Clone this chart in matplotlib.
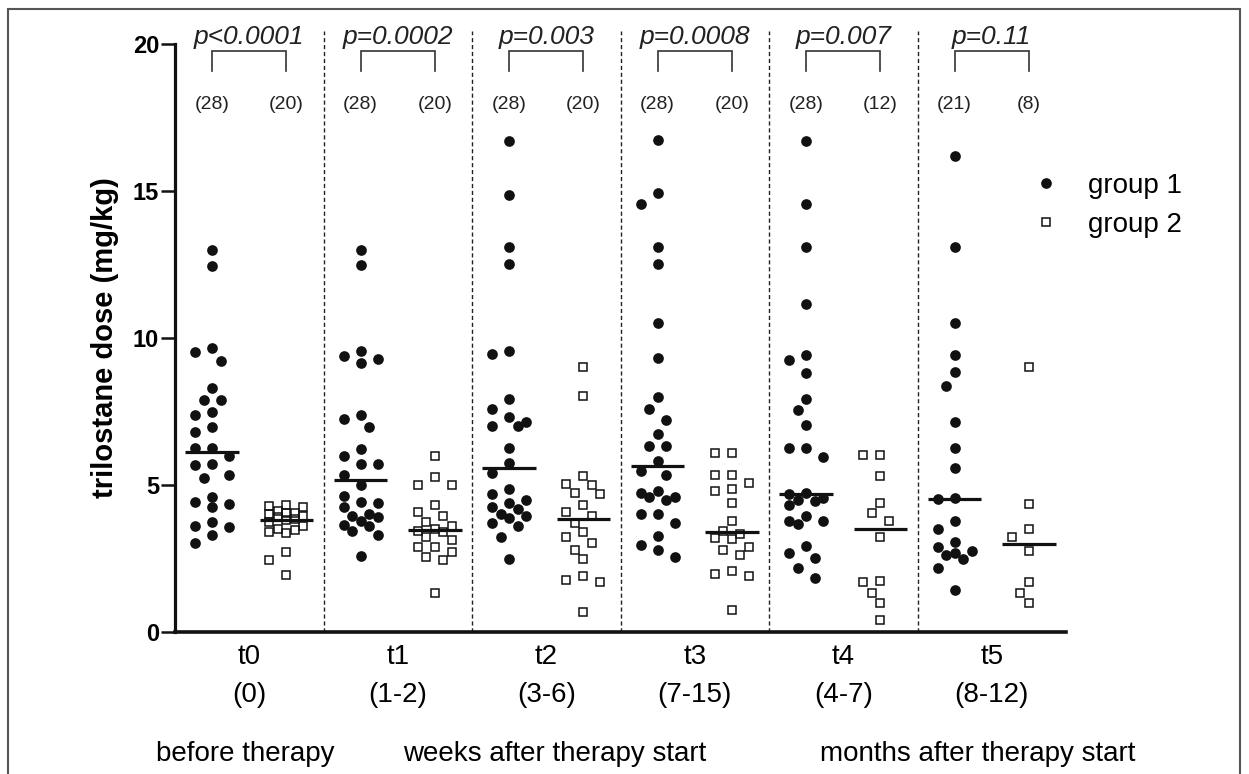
import numpy as np
import matplotlib
matplotlib.use("Agg")
import matplotlib.pyplot as plt
from matplotlib.lines import Line2D
from matplotlib.patches import Rectangle

plt.rcParams['font.family'] = ['Liberation Sans', 'DejaVu Sans']

# ---------------- data ----------------
timepoints = ["t0", "t1", "t2", "t3", "t4", "t5"]
ranges = ["(0)", "(1-2)", "(3-6)", "(7-15)", "(4-7)", "(8-12)"]
p_values = ["p<0.0001", "p=0.0002", "p=0.003", "p=0.0008", "p=0.007", "p=0.11"]
periods = ["before therapy", "weeks after therapy start", "months after therapy start"]
legend_labels = ["group 1", "group 2"]
y_label = "trilostane dose (mg/kg)"
y_ticks = [0, 5, 10, 15, 20]

group1_t0 = [13.0, 12.45, 9.67, 9.52, 9.21, 8.30, 7.90, 7.90, 7.49, 7.38, 6.96, 6.81, 6.25, 6.25,
             5.99, 5.70, 5.67, 5.33, 5.23, 4.59, 4.42, 4.37, 4.25, 3.73, 3.60, 3.58, 3.31, 3.03]
group2_t0 = [4.32, 4.30, 4.25, 4.10, 4.05, 4.04, 4.00, 3.95, 3.90, 3.85, 3.80, 3.75, 3.60, 3.50,
             3.47, 3.40, 3.36, 2.73, 2.45, 1.95]
group1_t1 = [13.0, 12.5, 9.55, 9.4, 9.3, 9.15, 7.38, 7.26, 6.96, 6.24, 5.99, 5.70, 5.70, 5.34,
             4.99, 4.62, 4.42, 4.39, 4.26, 4.0, 3.94, 3.90, 3.77, 3.65, 3.6, 3.43, 3.29, 2.57]
group2_t1 = [6.0, 5.28, 5.0, 5.0, 4.32, 4.09, 3.94, 3.75, 3.6, 3.5, 3.45, 3.4, 3.24, 3.13, 2.9,
             2.9, 2.73, 2.56, 2.45, 1.32]
group1_t2 = [16.70, 14.87, 13.08, 12.53, 9.55, 9.45, 7.93, 7.6, 7.3, 7.15, 7.0, 7.0, 6.27, 5.74,
             5.41, 4.85, 4.68, 4.5, 4.38, 4.25, 4.2, 4.01, 3.95, 3.89, 3.71, 3.59, 3.22, 2.49]
group2_t2 = [9.03, 8.03, 5.29, 5.05, 4.99, 4.74, 4.68, 4.32, 4.08, 3.95, 3.71, 3.41, 3.22, 3.04,
             2.80, 2.49, 1.89, 1.76, 1.70, 0.67]
group1_t3 = [16.75, 14.93, 14.56, 13.08, 12.53, 10.5, 9.31, 7.99, 7.58, 7.21, 6.73, 6.33, 6.33,
             5.80, 5.47, 5.35, 4.78, 4.74, 4.59, 4.59, 4.50, 4.01, 4.01, 3.71, 3.28, 2.96, 2.80, 2.55]
group2_t3 = [6.08, 6.08, 5.35, 5.35, 5.07, 4.87, 4.78, 4.38, 3.77, 3.44, 3.35, 3.2, 3.16, 2.88,
             2.80, 2.62, 2.07, 1.98, 1.89, 0.75]
group1_t4 = [16.69, 14.57, 13.08, 11.16, 9.43, 9.25, 8.82, 7.93, 7.54, 7.03, 6.27, 6.27, 5.96,
             4.74, 4.68, 4.56, 4.5, 4.44, 4.32, 3.95, 3.77, 3.77, 3.67, 2.92, 2.68, 2.53, 2.17, 1.82]
group2_t4 = [6.02, 6.02, 5.29, 4.38, 4.04, 3.77, 3.22, 1.73, 1.70, 1.34, 0.97, 0.40]
group1_t5 = [16.18, 13.08, 10.52, 9.43, 8.84, 8.37, 7.15, 6.27, 5.57, 4.56, 4.53, 3.77, 3.50,
             3.07, 2.90, 2.74, 2.68, 2.62, 2.49, 2.17, 1.44]
group2_t5 = [9.03, 4.36, 3.50, 3.22, 2.77, 1.70, 1.34, 0.97]

group1 = [group1_t0, group1_t1, group1_t2, group1_t3, group1_t4, group1_t5]
group2 = [group2_t0, group2_t1, group2_t2, group2_t3, group2_t4, group2_t5]

# ---------------- figure ----------------
W, H = 1249, 774
fig = plt.figure(figsize=(W / 100, H / 100), dpi=100)
ax_left, ax_right, ax_top, ax_bot = 175, 1066, 44, 632
ax = fig.add_axes([ax_left / W, 1 - ax_bot / H, (ax_right - ax_left) / W, (ax_bot - ax_top) / H])
ax.set_xlim(-0.5, 11.5)
ax.set_ylim(0, 20)

# outer frame
fig.patches.append(Rectangle((8 / W, -0.02), (1240 - 8) / W, 1.02 - 9 / H,
                             transform=fig.transFigure, fill=False,
                             edgecolor='#555555', lw=1.5))

# pixel scale for swarm layout
fig.canvas.draw()
p0 = ax.transData.transform((0, 0))
p1 = ax.transData.transform((1, 1))
xs, ys = p1[0] - p0[0], p1[1] - p0[1]


def swarm_offsets(values, step_px, dmin_px, max_k=2):
    vals = np.asarray(values, dtype=float)
    order = np.argsort(-vals, kind='stable')
    cands = [0]
    for k in range(1, max_k + 1):
        cands += [-k, k]
    placed = []
    offs = np.zeros(len(vals))
    for idx in order:
        y = vals[idx] * ys
        best_k, best_d = 0, -1.0
        for k in cands:
            x = k * step_px
            d = min([np.hypot(x - px, y - py) for px, py in placed], default=np.inf)
            if d >= dmin_px:
                best_k = k
                break
            if d > best_d:
                best_d, best_k = d, k
        placed.append((best_k * step_px, y))
        offs[idx] = best_k * step_px / xs
    return offs


step = 8.5
half_w = 0.36
for i in range(len(timepoints)):
    x1, x2 = 2 * i, 2 * i + 1
    v1, v2 = np.array(group1[i]), np.array(group2[i])
    o1 = swarm_offsets(v1, step, 14.0)
    o2 = swarm_offsets(v2, step, 12.0)
    ax.plot(x1 + o1, v1, 'o', color='#111111', ms=7.7, mew=0, zorder=3, clip_on=False)
    ax.plot(x2 + o2, v2, 's', mfc='none', mec='#111111', ms=6.2, mew=1.1, zorder=3, clip_on=False)
    ax.hlines(np.median(v1), x1 - half_w, x1 + half_w, color='#111111', lw=2.3, zorder=4)
    ax.hlines(np.median(v2), x2 - half_w, x2 + half_w, color='#111111', lw=2.3, zorder=4)
    # n labels
    ax.text(x1, 17.93, f"({len(v1)})", ha='center', va='center', fontsize=14, color='#222222')
    ax.text(x2, 17.93, f"({len(v2)})", ha='center', va='center', fontsize=14, color='#222222')
    # bracket and p value
    ax.plot([x1, x1, x2, x2], [19.09, 19.77, 19.77, 19.09], color='#333333', lw=1.2,
            clip_on=False, solid_joinstyle='miter')
    ax.text((x1 + x2) / 2, 20.0, p_values[i], ha='center', va='baseline', fontsize=19,
            style='italic', color='#222222', clip_on=False)
    if i < len(timepoints) - 1:
        ax.vlines(x2 + 0.5, 0, 20.45, colors='#222222', lw=1.0, linestyles=(0, (3, 2)),
                  clip_on=False, zorder=1)

# axes styling
for s in ['top', 'right']:
    ax.spines[s].set_visible(False)
ax.spines['left'].set_linewidth(2.3)
ax.spines['bottom'].set_linewidth(2.6)
ax.spines['left'].set_color('#111111')
ax.spines['bottom'].set_color('#111111')
ax.set_yticks(y_ticks)
ax.set_yticklabels([str(t) for t in y_ticks], fontsize=17, fontweight='bold')
ax.tick_params(axis='y', length=10, width=1.8, pad=1.5, color='#111111')
ax.set_xticks([2 * i + 0.5 for i in range(len(timepoints))])
ax.set_xticklabels([f"{t}\n{r}" for t, r in zip(timepoints, ranges)], fontsize=20,
                   linespacing=1.55)
ax.tick_params(axis='x', length=0, pad=9)
ax.set_ylabel(y_label, fontsize=21, fontweight='bold', labelpad=10)

# period texts under the axis
period_x = [0.45, 4.62, 10.31]
for px_, txt in zip(period_x, periods):
    ax.text(px_, (ax_bot - 754) / (ax_bot - ax_top), txt, transform=ax.get_xaxis_transform(),
            ha='center', va='center', fontsize=20, clip_on=False)

# legend
handles = [Line2D([], [], marker='o', ls='none', color='#111111', ms=7.7, mew=0),
           Line2D([], [], marker='s', ls='none', mfc='none', mec='#111111', ms=6.2, mew=1.1)]
ax.legend(handles, legend_labels, loc='upper left', bbox_to_anchor=(1032 / W, 1 - 173 / H),
          bbox_transform=fig.transFigure, frameon=False, fontsize=20, handlelength=1.0,
          handletextpad=1.0, labelspacing=0.45, borderpad=0, borderaxespad=0)

fig.savefig("out.png", dpi=100)
